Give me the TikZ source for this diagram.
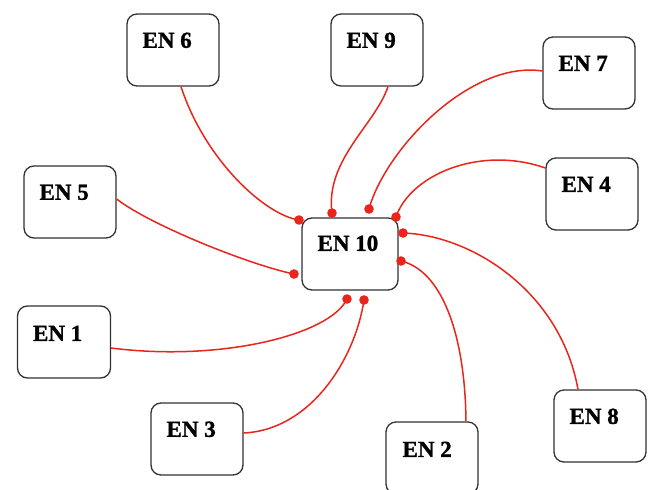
\documentclass[tikz,border=0pt]{standalone}
\usepackage{fontspec}
\setmainfont{Liberation Serif}[BoldFeatures={FakeBold=1.2}]
\definecolor{link}{RGB}{232,38,28}
\definecolor{edge}{RGB}{50,50,50}
\tikzset{
  enbox/.style={draw=edge, line width=1.3pt, rounded corners=10pt, minimum width=92pt, minimum height=72pt, inner sep=0pt, fill=white},
  enlabel/.style={anchor=west, inner sep=0pt, font=\fontsize{23}{25}\selectfont\bfseries},
  conn/.style={draw=link, line width=1.5pt},
  dot/.style={fill=link}
}
\begin{document}
\begin{tikzpicture}[x=1pt,y=-1pt]
\clip (0,0) rectangle (651,490);
\fill[white] (0,0) rectangle (651,490);
% boxes
\node[enbox] (en6) at (173,50) {};
\node[enbox] (en9) at (377,50) {};
\node[enbox] (en7) at (589,73) {};
\node[enbox] (en5) at (70,202) {};
\node[enbox] (en4) at (592,194) {};
\node[enbox, minimum width=96pt] (en10) at (350,254) {};
\node[enbox, minimum width=93pt] (en1) at (64,342) {};
\node[enbox] (en3) at (197,439) {};
\node[enbox] (en2) at (432,458) {};
\node[enbox] (en8) at (600,426) {};
% labels
\node[enlabel] (t6) at ([shift={(16,27)}]en6.north west) {EN 6};
\node[enlabel] (t9) at ([shift={(16,27)}]en9.north west) {EN 9};
\node[enlabel] (t7) at ([shift={(16,27)}]en7.north west) {EN 7};
\node[enlabel] (t5) at ([shift={(16,27)}]en5.north west) {EN 5};
\node[enlabel] (t4) at ([shift={(16,27)}]en4.north west) {EN 4};
\node[enlabel] (t10) at ([shift={(16,26)}]en10.north west) {EN 10};
\node[enlabel] (t1) at ([shift={(16,28)}]en1.north west) {EN 1};
\node[enlabel] (t3) at ([shift={(16,27)}]en3.north west) {EN 3};
\node[enlabel] (t2) at ([shift={(17,28)}]en2.north west) {EN 2};
\node[enlabel] (t8) at ([shift={(16,27)}]en8.north west) {EN 8};
% connection points on EN 10
\coordinate (d6) at (299,220);
\coordinate (d9) at (332,213);
\coordinate (d7) at (369,209);
\coordinate (d4) at (396,217);
\coordinate (d8) at (403,233);
\coordinate (d2) at (401,261);
\coordinate (d3) at (364,300);
\coordinate (d1) at (347,299);
\coordinate (d5) at (294,274);
% start points on outer boxes
\coordinate (s6) at (en6.south -| 181,0);
\coordinate (s9) at (en9.south -| 388,0);
\coordinate (s7) at (en7.west |- 0,71);
\coordinate (s4) at (en4.west |- 0,168);
\coordinate (s8) at (en8.north -| 578,0);
\coordinate (s2) at (en2.north -| 466,0);
\coordinate (s3) at (en3.east |- 0,433);
\coordinate (s1) at (en1.east |- 0,348);
\coordinate (s5) at (en5.east |- 0,199);
% connectors
\draw[conn] (s6) .. controls (205,160) and (265,215) .. (d6);
\draw[conn] (s9) .. controls (375,125) and (325,160) .. (d9);
\draw[conn] (s7) .. controls (470,60) and (385,150) .. (d7);
\draw[conn] (s4) .. controls (480,145) and (410,175) .. (d4);
\draw[conn] (s8) .. controls (560,290) and (470,235) .. (d8);
\draw[conn] (s2) .. controls (465,330) and (440,270) .. (d2);
\draw[conn] (s3) .. controls (310,430) and (355,360) .. (d3);
\draw[conn] (s1) .. controls (220,362) and (330,335) .. (d1);
\draw[conn] (s5) .. controls (150,225) and (250,265) .. (d5);
% dots
\foreach \d in {d6,d9,d7,d4,d8,d2,d3,d1,d5}
  \fill[dot] (\d) circle (4.8);
\end{tikzpicture}
\end{document}
